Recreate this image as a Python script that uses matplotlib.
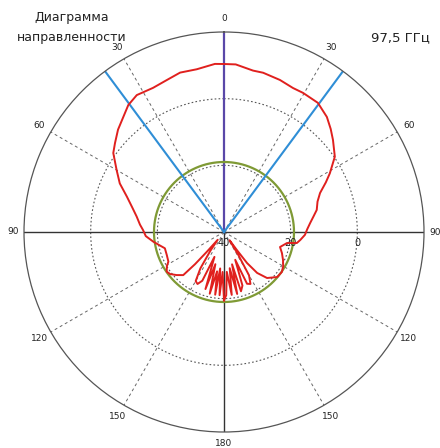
import numpy as np
import matplotlib
matplotlib.use('Agg')
import matplotlib.pyplot as plt

# ---- data (angle in degrees clockwise from top, gain in dB) ----
angles_deg = [-180, -178, -176, -174, -172, -170, -167, -165, -162, -159, -156, -153,
              -150, -147, -144, -141, -139, -138, -136.6, -132.3, -128, -124.7, -121,
              -118, -111.9, -105.4, -101, -97.8, -93, -88.6, -85, -80, -75, -70, -65,
              -60, -54.5, -50.8, -46, -41.1, -37, -32.5, -26.2, -20.7, -15.4, -9.5,
              -3.1, 0, 4, 10.2, 13.8, 20.2, 25.6, 29.6, 36, 41.8, 46, 49.8, 55.8, 61,
              64, 67.9, 72, 76.6, 80, 84, 88, 92, 96, 98.6, 99.9, 105, 110, 115.4, 120,
              124.6, 130.3, 136.9, 141, 143.4, 144.5, 146, 148, 150, 153, 156, 158, 161,
              164, 166, 168, 171, 173, 176, 178, 180]
gain_db = [-19.5, -28, -21, -29, -21, -28, -21, -30, -22, -32, -24, -22.5,
           -23, -27, -33, -37, -32, -27, -22.2, -20.8, -19.5, -19.1, -20,
           -21.1, -21.5, -21.6, -20, -18.6, -16.5, -15.7, -14.7, -13.4, -11.5, -9, -5.5,
           -2.8, 0.8, 2.2, 4.2, 5.9, 7.7, 8.7, 8.2, 8.7, 9.6, 9.5,
           10.5, 10.4, 10.4, 9.2, 9.2, 8.6, 7.9, 8.0, 7.9, 6.3, 4.5, 2.8, 0.2, -3.7,
           -6, -8.9, -10.5, -11.4, -12.7, -14, -15, -15.7, -17, -17.9, -20.8, -22.6, -21.5, -20.4, -19.5,
           -18.9, -19.1, -21.1, -24.2, -28.4, -33.4, -37, -32, -25, -22.5, -23, -31, -23,
           -21.5, -30, -21, -29, -21, -28, -21, -19.5]

cone_half_angle = 36.5          # blue lines
ref_level_db = -19.0            # green circle
r_min, r_max = -40, 20
grid_circles = [-20, 0]
angle_ticks = [0, 30, 60, 90, 120, 150, 180, -150, -120, -90, -60, -30]
angle_labels = ['0', '30', '60', '90', '120', '150', '180', '150', '120', '90', '60', '30']
radial_ticks = [-40, -20, 0]
radial_labels = ['40', '20', '0']
title_lines = ['Диаграмма', 'направленности']
freq_label = '97,5 ГГц'

# ---- figure ----
fig = plt.figure(figsize=(4.4, 4.48), dpi=100)
fig.patch.set_facecolor('white')
ax = fig.add_axes([24 / 440, 16 / 448, 400 / 440, 400 / 448], projection='polar')
ax.set_theta_zero_location('N')
ax.set_theta_direction(-1)
ax.set_ylim(r_min, r_max)
ax.grid(False)
ax.set_xticks([])
ax.set_yticks([])
ax.spines['polar'].set_color('#555555')
ax.spines['polar'].set_linewidth(0.9)

full = np.linspace(0, 2 * np.pi, 721)
for rc in grid_circles:
    ax.plot(full, np.full_like(full, rc), ls=(0, (1.5, 2)), color='#555555', lw=0.8)

for a in [30, 60, 120, 150, 210, 240, 300, 330]:
    t = np.deg2rad(a)
    ax.plot([t, t], [r_min, r_max], ls=(0, (3, 3)), color='#666666', lw=0.7)

# solid axes
for a in [90, 270, 180]:
    t = np.deg2rad(a)
    ax.plot([t, t], [r_min, r_max], color='#333333', lw=1.0)
ax.plot([0, 0], [r_min, r_max], color='#5a48a8', lw=1.6)

# reference circle
ax.plot(full, np.full_like(full, ref_level_db), color='#7f9a35', lw=1.6)

# cone lines
for a in [-cone_half_angle, cone_half_angle]:
    t = np.deg2rad(a)
    ax.plot([t, t], [r_min, r_max], color='#2f8ed6', lw=1.5)

# pattern
ax.plot(np.deg2rad(angles_deg), gain_db, color='#e0201e', lw=1.4, zorder=5)

# angle labels
for a, lbl in zip(angle_ticks, angle_labels):
    rr = 23.4 if abs(a) in (90, 180) else 24.0
    ax.text(np.deg2rad(a), rr, lbl, ha='center', va='center', fontsize=6.5,
            color='#222222', clip_on=False)

# radial labels
for r, lbl in zip(radial_ticks, radial_labels):
    ax.annotate(lbl, xy=(np.pi / 2, r), xytext=(0, -11), textcoords='offset pixels',
                ha='center', va='center', fontsize=7, color='#222222')

fig.text(72 / 440, 1 - 18 / 448, title_lines[0], ha='center', va='center', fontsize=9, color='#222222')
fig.text(72 / 440, 1 - 37 / 448, title_lines[1], ha='center', va='center', fontsize=9, color='#222222')
fig.text(400 / 440, 1 - 38 / 448, freq_label, ha='center', va='center', fontsize=9.5, color='#222222')

fig.savefig('out.png', dpi=100, facecolor='white')
